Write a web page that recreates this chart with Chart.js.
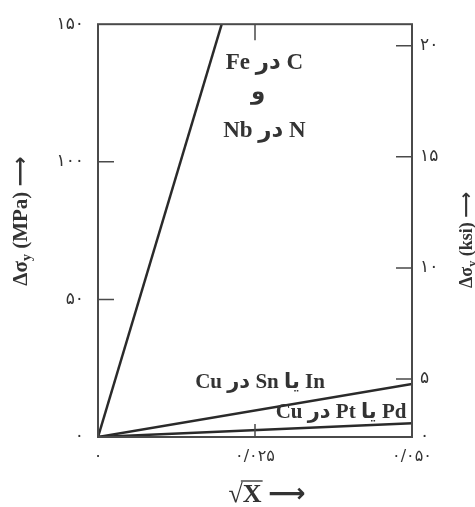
<!DOCTYPE html>
<html>
<head>
<meta charset="utf-8">
<script src="https://cdn.jsdelivr.net/npm/chart.js@4.4.0/dist/chart.umd.min.js"></script>
<style>
  html, body { margin: 0; padding: 0; background: #fff; }
  #wrap { width: 475px; height: 507px; }
</style>
</head>
<body>
<div id="wrap"><canvas id="chartCanvas"></canvas></div>
<script>
// values (x = sqrt of atomic fraction, y = MPa)
const feNbX = [0, 0.0197];
const feNbY = [0, 150];
const cuSnInX = [0, 0.05];
const cuSnInY = [0, 19.3];
const cuPdPtX = [0, 0.05];
const cuPdPtY = [0, 5];

const xTickValues = [0, 0.025, 0.05];
const xTickLabels = ['۰', '۰/۰۲۵', '۰/۰۵۰'];
const mpaTickValues = [0, 50, 100, 150];
const mpaTickLabels = ['۰', '۵۰', '۱۰۰', '۱۵۰'];
const ksiTickValues = [5, 10, 15, 20];
const ksiTickLabels = ['۵', '۱۰', '۱۵', '۲۰'];
const ksiMin = 2.39, ksiMax = 20.97;

const seriesLabels = ['C در Fe', 'و', 'N در Nb', 'In یا Sn در Cu', 'Pd یا Pt در Cu'];

const ink = '#333';

function toPoints(xs, ys) {
  return xs.map((x, i) => ({ x: x, y: ys[i] }));
}

function lineSet(xs, ys) {
  return {
    data: toPoints(xs, ys),
    showLine: true,
    borderColor: '#2a2a2a',
    borderWidth: 2.5,
    pointRadius: 0,
    fill: false,
    tension: 0
  };
}

const decor = {
  id: 'decor',
  afterDraw(chart) {
    const { ctx, chartArea: a, scales } = chart;
    const x = scales.x, y = scales.y, y2 = scales.y2;
    ctx.save();
    ctx.strokeStyle = '#4a4a4a';
    ctx.lineWidth = 2;
    ctx.strokeRect(a.left, a.top, a.right - a.left, a.bottom - a.top);

    // inward tick marks
    ctx.lineWidth = 1.5;
    const len = 16;
    ctx.beginPath();
    [50, 100].forEach(v => {
      const py = y.getPixelForValue(v);
      ctx.moveTo(a.left, py); ctx.lineTo(a.left + len, py);
    });
    ksiTickValues.forEach(v => {
      const py = y2.getPixelForValue(v);
      ctx.moveTo(a.right, py); ctx.lineTo(a.right - len, py);
    });
    const px = x.getPixelForValue(0.025);
    ctx.moveTo(px, a.bottom); ctx.lineTo(px, a.bottom - 13);
    ctx.moveTo(px, a.top); ctx.lineTo(px, a.top + len);
    ctx.stroke();

    // curve labels
    ctx.fillStyle = ink;
    ctx.direction = 'rtl';
    ctx.textAlign = 'center';
    ctx.textBaseline = 'middle';
    const big = 'bold 23px "Liberation Serif", "DejaVu Sans"';
    const mid = 'bold 21px "Liberation Serif", "DejaVu Sans"';
    const place = [
      [0.0265, 136, big], [0.0255, 125, big], [0.0265, 111, big],
      [0.0258, 19.6, mid], [0.0387, 8.9, mid]
    ];
    seriesLabels.forEach((t, i) => {
      ctx.font = place[i][2];
      ctx.fillText(t, x.getPixelForValue(place[i][0]), y.getPixelForValue(place[i][1]));
    });

    // axis titles
    ctx.direction = 'ltr';
    ctx.textAlign = 'left';
    ctx.textBaseline = 'alphabetic';
    drawVertTitle(ctx, 27, 221, ' (MPa) ⟶', 21);
    drawVertTitle(ctx, 472, 240, ' (ksi) ⟶', 18);

    ctx.font = 'bold 26px "Liberation Serif", "DejaVu Sans"';
    const rad = '√', xs = 'X', ar = ' ⟶';
    const w1 = ctx.measureText(rad).width, w2 = ctx.measureText(xs).width, w3 = ctx.measureText(ar).width;
    let sx = 267 - (w1 + w2 + w3) / 2;
    const by = 502;
    ctx.fillText(rad, sx, by);
    ctx.fillText(xs, sx + w1, by);
    ctx.fillText(ar, sx + w1 + w2, by);
    ctx.lineWidth = 1.5;
    ctx.beginPath();
    ctx.moveTo(sx + w1 - 2, by - 21);
    ctx.lineTo(sx + w1 + w2 + 1, by - 21);
    ctx.stroke();
    ctx.restore();
  }
};

function drawVertTitle(ctx, cx, cy, rest, size) {
  ctx.save();
  ctx.translate(cx, cy);
  ctx.rotate(-Math.PI / 2);
  const f1 = 'bold ' + size + 'px "Liberation Serif", "DejaVu Sans"';
  const f2 = 'bold ' + Math.round(size * 0.65) + 'px "Liberation Serif"';
  ctx.font = f1;
  const a = ctx.measureText('Δσ').width;
  const c = ctx.measureText(rest).width;
  ctx.font = f2;
  const b = ctx.measureText('y').width;
  let sx = -(a + b + c) / 2;
  ctx.font = f1;
  ctx.fillText('Δσ', sx, 0);
  ctx.font = f2;
  ctx.fillText('y', sx + a, 4);
  ctx.font = f1;
  ctx.fillText(rest, sx + a + b, 0);
  ctx.restore();
}

new Chart(document.getElementById('chartCanvas'), {
  type: 'scatter',
  data: {
    datasets: [
      lineSet(feNbX, feNbY),
      lineSet(cuSnInX, cuSnInY),
      lineSet(cuPdPtX, cuPdPtY)
    ]
  },
  options: {
    responsive: true,
    maintainAspectRatio: false,
    animation: false,
    layout: { padding: { top: 17, left: 0, right: 0, bottom: 0 } },
    plugins: { legend: { display: false }, tooltip: { enabled: false } },
    scales: {
      x: {
        type: 'linear', min: 0, max: 0.05,
        grid: { display: false, drawTicks: false },
        border: { display: false },
        afterBuildTicks: s => { s.ticks = xTickValues.map(v => ({ value: v })); },
        afterFit: s => { s.height = 70; },
        ticks: {
          padding: 10, color: ink, font: { family: 'DejaVu Sans', size: 16 }, maxRotation: 0,
          callback: v => xTickLabels[xTickValues.indexOf(v)]
        }
      },
      y: {
        type: 'linear', position: 'left', min: 0, max: 150,
        grid: { display: false, drawTicks: false },
        border: { display: false },
        afterBuildTicks: s => { s.ticks = mpaTickValues.map(v => ({ value: v })); },
        afterFit: s => { s.width = 98; },
        ticks: {
          padding: 14, color: ink, font: { family: 'DejaVu Sans', size: 17 },
          callback: v => mpaTickLabels[mpaTickValues.indexOf(v)]
        }
      },
      y2: {
        type: 'linear', position: 'right', min: ksiMin, max: ksiMax,
        grid: { display: false, drawTicks: false },
        border: { display: false },
        afterBuildTicks: s => { s.ticks = [{ value: ksiMin }].concat(ksiTickValues.map(v => ({ value: v }))); },
        afterFit: s => { s.width = 63; },
        ticks: {
          padding: 8, color: ink, font: { family: 'DejaVu Sans', size: 17 },
          callback: v => v === ksiMin ? '۰' : ksiTickLabels[ksiTickValues.indexOf(v)]
        }
      }
    }
  },
  plugins: [decor]
});
</script>
</body>
</html>
